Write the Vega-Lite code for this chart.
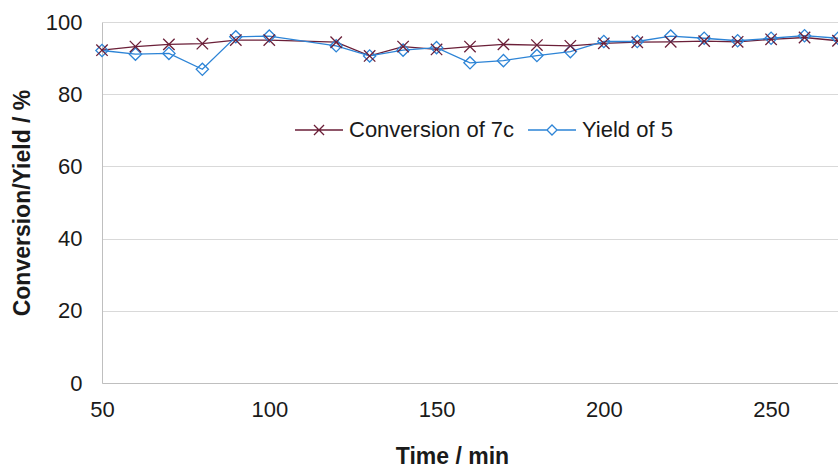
{
  "$schema": "https://vega.github.io/schema/vega-lite/v6.json",
  "width": 736,
  "height": 361,
  "autosize": {"type": "none"},
  "padding": {"left": 102, "top": 22, "right": 0, "bottom": 84},
  "background": "white",
  "config": {
    "font": "Liberation Sans",
    "view": {"stroke": null},
    "axis": {"labelFont": "Liberation Sans", "titleFont": "Liberation Sans", "labelFontSize": 22, "titleFontSize": 23, "labelColor": "#1a1a1a", "titleColor": "#1a1a1a", "titleFontWeight": "bold", "domainColor": "#bfbfbf", "gridColor": "#d9d9d9", "ticks": false, "labelFlush": false, "labelOverlap": false}
  },
  "data": {"values": [
    {"time": 50, "series": "Conversion of 7c", "value": 92.2},
    {"time": 60, "series": "Conversion of 7c", "value": 93.2},
    {"time": 70, "series": "Conversion of 7c", "value": 93.8},
    {"time": 80, "series": "Conversion of 7c", "value": 94.0},
    {"time": 90, "series": "Conversion of 7c", "value": 95.0},
    {"time": 100, "series": "Conversion of 7c", "value": 95.0},
    {"time": 120, "series": "Conversion of 7c", "value": 94.4},
    {"time": 130, "series": "Conversion of 7c", "value": 90.6},
    {"time": 140, "series": "Conversion of 7c", "value": 93.2},
    {"time": 150, "series": "Conversion of 7c", "value": 92.4},
    {"time": 160, "series": "Conversion of 7c", "value": 93.2},
    {"time": 170, "series": "Conversion of 7c", "value": 93.8},
    {"time": 180, "series": "Conversion of 7c", "value": 93.6},
    {"time": 190, "series": "Conversion of 7c", "value": 93.4},
    {"time": 200, "series": "Conversion of 7c", "value": 94.1},
    {"time": 210, "series": "Conversion of 7c", "value": 94.4},
    {"time": 220, "series": "Conversion of 7c", "value": 94.5},
    {"time": 230, "series": "Conversion of 7c", "value": 94.7},
    {"time": 240, "series": "Conversion of 7c", "value": 94.5},
    {"time": 250, "series": "Conversion of 7c", "value": 95.2},
    {"time": 260, "series": "Conversion of 7c", "value": 95.7},
    {"time": 270, "series": "Conversion of 7c", "value": 94.8},
    {"time": 50, "series": "Yield of 5", "value": 92.1},
    {"time": 60, "series": "Yield of 5", "value": 91.1},
    {"time": 70, "series": "Yield of 5", "value": 91.3},
    {"time": 80, "series": "Yield of 5", "value": 86.9},
    {"time": 90, "series": "Yield of 5", "value": 95.9},
    {"time": 100, "series": "Yield of 5", "value": 96.1},
    {"time": 120, "series": "Yield of 5", "value": 93.4},
    {"time": 130, "series": "Yield of 5", "value": 90.6},
    {"time": 140, "series": "Yield of 5", "value": 92.2},
    {"time": 150, "series": "Yield of 5", "value": 92.9},
    {"time": 160, "series": "Yield of 5", "value": 88.7},
    {"time": 170, "series": "Yield of 5", "value": 89.3},
    {"time": 180, "series": "Yield of 5", "value": 90.7},
    {"time": 190, "series": "Yield of 5", "value": 91.8},
    {"time": 200, "series": "Yield of 5", "value": 94.6},
    {"time": 210, "series": "Yield of 5", "value": 94.6},
    {"time": 220, "series": "Yield of 5", "value": 96.1},
    {"time": 230, "series": "Yield of 5", "value": 95.5},
    {"time": 240, "series": "Yield of 5", "value": 94.8},
    {"time": 250, "series": "Yield of 5", "value": 95.5},
    {"time": 260, "series": "Yield of 5", "value": 96.2},
    {"time": 270, "series": "Yield of 5", "value": 95.5}
  ]},
  "encoding": {
    "x": {"field": "time", "type": "quantitative", "scale": {"domain": [50, 270], "nice": false, "zero": false},
      "axis": {"title": "Time / min", "values": [50, 100, 150, 200, 250], "grid": false, "labelPadding": 16, "titleX": 350, "titleY": 73, "titleBaseline": "middle"}},
    "y": {"field": "value", "type": "quantitative", "scale": {"domain": [0, 100], "nice": false},
      "axis": {"title": "Conversion/Yield / %", "values": [0, 20, 40, 60, 80, 100], "labelPadding": 20, "titleX": -80, "titleBaseline": "middle"}},
    "color": {"field": "series", "type": "nominal", "scale": {"domain": ["Conversion of 7c", "Yield of 5"], "range": ["#6b1f38", "#2d84d6"]},
      "legend": {"title": null, "orient": "none", "legendX": 192, "legendY": 83, "direction": "horizontal", "labelFontSize": 22, "labelFont": "Liberation Sans", "labelColor": "#1a1a1a", "labelLimit": 400, "symbolSize": 2304, "symbolStrokeWidth": 1.3, "symbolFillColor": "transparent", "labelOffset": 5, "columnPadding": 10,
        "encode": {"symbols": {"update": {"shape": {"signal": "datum.value === 'Conversion of 7c' ? 'M-1,0L1,0M-0.21,-0.21L0.21,0.21M-0.21,0.21L0.21,-0.21' : 'M-1,0L-0.21,0M0.21,0L1,0M-0.21,0L0,-0.21L0.21,0L0,0.21Z'"}, "fill": {"value": "transparent"}}}}}}
  },
  "layer": [
    {"mark": {"type": "line", "strokeWidth": 1.3, "clip": false}},
    {"transform": [{"filter": "datum.series === 'Yield of 5'"}],
     "mark": {"type": "point", "shape": "diamond", "filled": false, "size": 150, "strokeWidth": 1.3, "opacity": 1}},
    {"transform": [{"filter": "datum.series === 'Conversion of 7c'"}],
     "mark": {"type": "point", "shape": "M-1,-1L1,1M-1,1L1,-1", "filled": false, "size": 130, "strokeWidth": 1.3, "opacity": 1}}
  ]
}
